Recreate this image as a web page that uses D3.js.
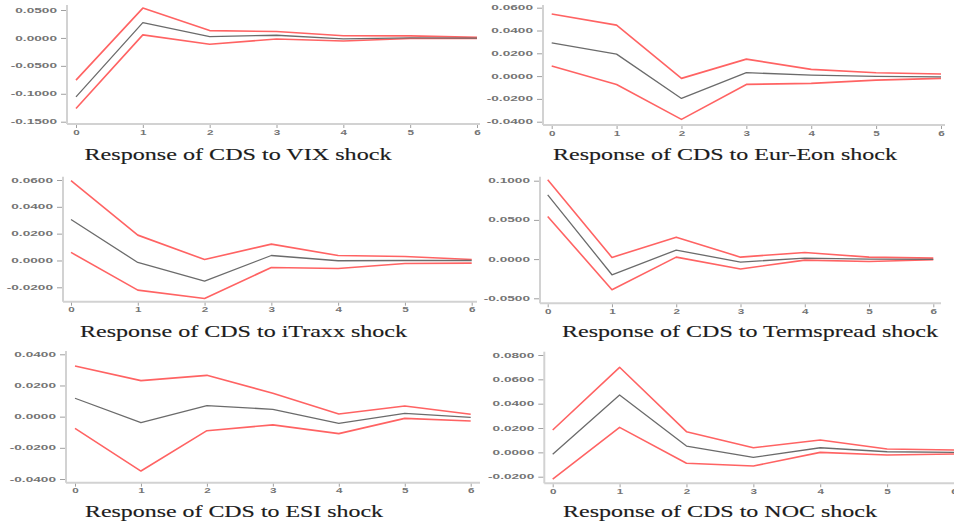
<!DOCTYPE html>
<html>
<head>
<meta charset="utf-8">
<script src="https://cdn.jsdelivr.net/npm/d3@7"></script>
<style>
  body { margin: 0; background: #fff; }
  svg { display: block; }
</style>
</head>
<body>
<svg id="chart"></svg>
<script>
// Horizons
const steps = [0, 1, 2, 3, 4, 5, 6];
const stepLabels = ["0", "1", "2", "3", "4", "5", "6"];

// Response of CDS to VIX shock
const vixIrf = [-0.1055, 0.0275, 0.0024, 0.0048, -0.0018, 0.0000, -0.0005];
const vixUpper = [-0.0755, 0.0534, 0.0131, 0.0114, 0.0040, 0.0036, 0.0010];
const vixLower = [-0.1265, 0.0054, -0.0114, -0.0018, -0.0054, -0.0010, -0.0010];
const vixTicks = [-0.15, -0.10, -0.05, 0, 0.05];
const vixTickLabels = ["-0.1500", "-0.1000", "-0.0500", "0.0000", "0.0500"];

// Response of CDS to Eur-Eon shock
const eonIrf = [0.0292, 0.0193, -0.0196, 0.0030, 0.0009, -0.0003, -0.0006];
const eonUpper = [0.0544, 0.0447, -0.0020, 0.0149, 0.0059, 0.0030, 0.0018];
const eonLower = [0.0088, -0.0073, -0.0380, -0.0073, -0.0064, -0.0035, -0.0020];
const eonTicks = [-0.04, -0.02, 0, 0.02, 0.04, 0.06];
const eonTickLabels = ["-0.0400", "-0.0200", "0.0000", "0.0200", "0.0400", "0.0600"];

// Response of CDS to iTraxx shock
const itraxxIrf = [0.0306, -0.0015, -0.0154, 0.0037, -0.0002, 0.0000, 0.0000];
const itraxxUpper = [0.0596, 0.0189, 0.0007, 0.0122, 0.0037, 0.0030, 0.0007];
const itraxxLower = [0.0060, -0.0221, -0.0283, -0.0052, -0.0060, -0.0022, -0.0020];
const itraxxTicks = [-0.02, 0, 0.02, 0.04, 0.06];
const itraxxTickLabels = ["-0.0200", "0.0000", "0.0200", "0.0400", "0.0600"];

// Response of CDS to Termspread shock
const termIrf = [0.0820, -0.0200, 0.0115, -0.0038, 0.0013, 0.0000, -0.0004];
const termUpper = [0.1011, 0.0021, 0.0280, 0.0025, 0.0085, 0.0025, 0.0013];
const termLower = [0.0544, -0.0390, 0.0025, -0.0127, -0.0013, -0.0030, -0.0008];
const termTicks = [-0.05, 0, 0.05, 0.10];
const termTickLabels = ["-0.0500", "0.0000", "0.0500", "0.1000"];

// Response of CDS to ESI shock
const esiIrf = [0.0118, -0.0039, 0.0071, 0.0047, -0.0043, 0.0021, -0.0004];
const esiUpper = [0.0325, 0.0231, 0.0265, 0.0150, 0.0017, 0.0068, 0.0015];
const esiLower = [-0.0075, -0.0349, -0.0090, -0.0053, -0.0109, -0.0011, -0.0028];
const esiTicks = [-0.04, -0.02, 0, 0.02, 0.04];
const esiTickLabels = ["-0.0400", "-0.0200", "0.0000", "0.0200", "0.0400"];

// Response of CDS to NOC shock
const nocIrf = [-0.0016, 0.0471, 0.0052, -0.0041, 0.0038, 0.0005, 0.0000];
const nocUpper = [0.0184, 0.0699, 0.0170, 0.0038, 0.0101, 0.0027, 0.0019];
const nocLower = [-0.0219, 0.0205, -0.0090, -0.0112, 0.0000, -0.0022, -0.0014];
const nocTicks = [-0.02, 0, 0.02, 0.04, 0.06, 0.08];
const nocTickLabels = ["-0.0200", "0.0000", "0.0200", "0.0400", "0.0600", "0.0800"];

const titles = [
  "Response of CDS to VIX shock",
  "Response of CDS to Eur-Eon shock",
  "Response of CDS to iTraxx shock",
  "Response of CDS to Termspread shock",
  "Response of CDS to ESI shock",
  "Response of CDS to NOC shock"
];

const series = [
  [vixIrf, vixUpper, vixLower, vixTicks, vixTickLabels],
  [eonIrf, eonUpper, eonLower, eonTicks, eonTickLabels],
  [itraxxIrf, itraxxUpper, itraxxLower, itraxxTicks, itraxxTickLabels],
  [termIrf, termUpper, termLower, termTicks, termTickLabels],
  [esiIrf, esiUpper, esiLower, esiTicks, esiTickLabels],
  [nocIrf, nocUpper, nocLower, nocTicks, nocTickLabels]
];

// Where each small panel sits on the page
const layout = [
  { axisX: 67, xr: [76, 477], yr: [121.7, 10], top: 5, base: 124, right: 480, tx: 238, ty: 160, tw: 307 },
  { axisX: 543, xr: [551.7, 941], yr: [121.7, 7.7], top: 5, base: 125, right: 945, tx: 725, ty: 159.5, tw: 344 },
  { axisX: 63, xr: [71, 471.7], yr: [287.3, 180], top: 176.7, base: 301.7, right: 477, tx: 243.5, ty: 336.7, tw: 327 },
  { axisX: 540, xr: [547.7, 933.3], yr: [298.3, 180.7], top: 176.7, base: 303.3, right: 941, tx: 750, ty: 336.7, tw: 376 },
  { axisX: 66, xr: [75, 470.7], yr: [479, 354.3], top: 351, base: 482.7, right: 480, tx: 234, ty: 516.7, tw: 298 },
  { axisX: 544.3, xr: [552.7, 954], yr: [476.7, 355], top: 351.7, base: 483.3, right: 960, tx: 720, ty: 516.7, tw: 314 }
];

const width = 954;
const height = 527;
const stretch = 2.1; // tick labels are squashed wide in the source

const svg = d3.select("#chart").attr("width", width).attr("height", height);
svg.append("rect").attr("width", width).attr("height", height).attr("fill", "#fff");

series.forEach(([irf, upper, lower, ticks, tickLabels], i) => {
  const L = layout[i];
  const g = svg.append("g");

  const x = d3.scaleLinear().domain([0, 6]).range(L.xr);
  const y = d3.scaleLinear().domain([ticks[0], ticks[ticks.length - 1]]).range(L.yr);

  // axis lines
  g.append("line")
    .attr("x1", L.axisX).attr("x2", L.axisX)
    .attr("y1", L.top).attr("y2", L.base)
    .attr("stroke", "#d2d2d2").attr("stroke-width", 2);
  g.append("line")
    .attr("x1", L.axisX).attr("x2", L.right)
    .attr("y1", L.base).attr("y2", L.base)
    .attr("stroke", "#d2d2d2").attr("stroke-width", 2);

  // y axis
  const yAxis = g.append("g")
    .attr("transform", `translate(${L.axisX - 1},0)`)
    .call(d3.axisLeft(y)
      .tickValues(ticks)
      .tickFormat((d, k) => tickLabels[k])
      .tickSize(5)
      .tickSizeOuter(0));
  yAxis.select(".domain").remove();
  yAxis.selectAll("line").attr("stroke", "#a0a0a0");
  yAxis.selectAll("text")
    .attr("x", -9 / stretch)
    .attr("transform", `scale(${stretch},1)`)
    .attr("font-family", "Liberation Sans, Arial, sans-serif")
    .attr("font-size", 6.5)
    .attr("font-weight", "bold")
    .attr("fill", "#747474");

  // x axis
  const xAxis = g.append("g")
    .attr("transform", `translate(0,${L.base + 1})`)
    .call(d3.axisBottom(x)
      .tickValues(steps)
      .tickFormat((d, k) => stepLabels[k])
      .tickSize(3)
      .tickSizeOuter(0));
  xAxis.select(".domain").remove();
  xAxis.selectAll("line").attr("stroke", "#a0a0a0");
  xAxis.selectAll("text")
    .attr("y", 5)
    .attr("transform", "scale(1.8,1)")
    .attr("font-family", "Liberation Sans, Arial, sans-serif")
    .attr("font-size", 6.5)
    .attr("font-weight", "bold")
    .attr("fill", "#747474");

  // lines
  const line = d3.line().x((d, k) => x(steps[k])).y(d => y(d));
  [[upper, "#ff6363", 1.6], [lower, "#ff6363", 1.6], [irf, "#6b6b6b", 1.3]].forEach(([s, c, w]) => {
    g.append("path")
      .datum(s)
      .attr("fill", "none")
      .attr("stroke", c)
      .attr("stroke-width", w)
      .attr("stroke-linejoin", "round")
      .attr("d", line);
  });

  // title
  g.append("text")
    .attr("x", L.tx)
    .attr("y", L.ty)
    .attr("text-anchor", "middle")
    .attr("textLength", L.tw)
    .attr("lengthAdjust", "spacingAndGlyphs")
    .attr("font-family", "Liberation Serif, Times New Roman, serif")
    .attr("font-size", 17)
    .attr("fill", "#1c1c1c")
    .attr("stroke", "#1c1c1c")
    .attr("stroke-width", 0.15)
    .text(titles[i]);
});
</script>
</body>
</html>
